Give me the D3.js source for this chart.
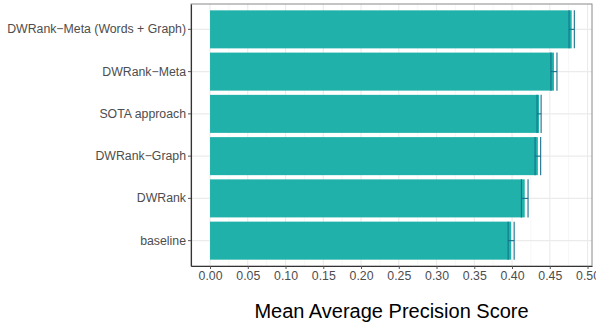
<!DOCTYPE html>
<html>
<head>
<meta charset="utf-8">
<script src="https://cdn.jsdelivr.net/npm/d3@7"></script>
<style>
  html, body { margin: 0; padding: 0; background: #fff; }
  svg { display: block; font-family: "Liberation Sans", Arial, sans-serif; }
</style>
</head>
<body>
<svg id="chart" width="596" height="326"></svg>
<script>
// Methods, top to bottom
const methods = [
  "DWRank\u2212Meta (Words + Graph)",
  "DWRank\u2212Meta",
  "SOTA approach",
  "DWRank\u2212Graph",
  "DWRank",
  "baseline"
];
// Mean average precision per method
const meanAP = [0.479, 0.4555, 0.4358, 0.4342, 0.4168, 0.3988];
// Half-width of the error bar around each mean
const errAP = [0.0035, 0.004, 0.0027, 0.0037, 0.0044, 0.004];
// X axis ticks
const xTicks = [0, 0.05, 0.1, 0.15, 0.2, 0.25, 0.3, 0.35, 0.4, 0.45, 0.5];
const xMinor = d3.range(0.025, 0.5, 0.05);

const svg = d3.select("#chart");
const panel = { left: 191, top: 4, right: 592, bottom: 266 };

const x = d3.scaleLinear()
  .domain([-0.0252, 0.5059])
  .range([panel.left, panel.right]);

const y = d3.scaleBand()
  .domain(methods)
  .range([panel.top, panel.bottom])
  .paddingInner(0.1)
  .paddingOuter(0.15);

const g = svg.append("g");

// Grid lines
g.selectAll("line.minor").data(xMinor).join("line")
  .attr("x1", d => x(d)).attr("x2", d => x(d))
  .attr("y1", panel.top).attr("y2", panel.bottom)
  .attr("stroke", "#f2f2f2").attr("stroke-width", 0.6);
g.selectAll("line.major").data(xTicks).join("line")
  .attr("x1", d => x(d)).attr("x2", d => x(d))
  .attr("y1", panel.top).attr("y2", panel.bottom)
  .attr("stroke", "#ebebeb").attr("stroke-width", 1.1);
g.selectAll("line.hgrid").data(methods).join("line")
  .attr("x1", panel.left).attr("x2", panel.right)
  .attr("y1", d => y(d) + y.bandwidth() / 2).attr("y2", d => y(d) + y.bandwidth() / 2)
  .attr("stroke", "#ebebeb").attr("stroke-width", 1.1);

// Bars
g.selectAll("rect.bar").data(methods).join("rect")
  .attr("x", x(0))
  .attr("y", d => y(d))
  .attr("width", (d, i) => x(meanAP[i]) - x(0))
  .attr("height", y.bandwidth())
  .attr("fill", "#20b2aa");

// Error bars
const eb = g.selectAll("g.err").data(methods).join("g");
eb.append("line")
  .attr("x1", (d, i) => x(meanAP[i] - errAP[i]))
  .attr("x2", (d, i) => x(meanAP[i] + errAP[i]))
  .attr("y1", d => y(d) + y.bandwidth() / 2)
  .attr("y2", d => y(d) + y.bandwidth() / 2);
eb.append("line")
  .attr("x1", (d, i) => x(meanAP[i] - errAP[i]))
  .attr("x2", (d, i) => x(meanAP[i] - errAP[i]))
  .attr("y1", d => y(d)).attr("y2", d => y(d) + y.bandwidth());
eb.append("line")
  .attr("x1", (d, i) => x(meanAP[i] + errAP[i]))
  .attr("x2", (d, i) => x(meanAP[i] + errAP[i]))
  .attr("y1", d => y(d)).attr("y2", d => y(d) + y.bandwidth());
eb.selectAll("line").attr("stroke", "#17708c").attr("stroke-width", 1.1);

// Panel border
g.append("rect")
  .attr("x", panel.left).attr("y", panel.top)
  .attr("width", panel.right - panel.left).attr("height", panel.bottom - panel.top)
  .attr("fill", "none").attr("stroke", "#8a8a8a").attr("stroke-width", 1);

// Axes
const xAxis = d3.axisBottom(x).tickValues(xTicks).tickFormat(d3.format(".2f"))
  .tickSizeInner(3).tickSizeOuter(0).tickPadding(2);
const xg = svg.append("g").attr("transform", `translate(0,${panel.bottom})`).call(xAxis);
xg.select(".domain").attr("stroke", "#333").attr("stroke-width", 1.1);
xg.selectAll(".tick line").attr("stroke", "#555");
xg.selectAll(".tick text").attr("fill", "#4d4d4d").attr("font-size", "12.3px")
  .attr("font-family", "Liberation Sans, Arial, sans-serif");

const yAxis = d3.axisLeft(y).tickSizeInner(3).tickSizeOuter(0).tickPadding(2);
const yg = svg.append("g").attr("transform", `translate(${panel.left},0)`).call(yAxis);
yg.select(".domain").attr("stroke", "#333").attr("stroke-width", 1.1);
yg.selectAll(".tick line").attr("stroke", "#555");
yg.selectAll(".tick text").attr("fill", "#4d4d4d").attr("font-size", "12.3px")
  .attr("font-family", "Liberation Sans, Arial, sans-serif");

// Axis title
svg.append("text")
  .attr("x", (panel.left + panel.right) / 2)
  .attr("y", 318)
  .attr("text-anchor", "middle")
  .attr("font-size", "20px")
  .attr("fill", "#000")
  .text("Mean Average Precision Score");
</script>
</body>
</html>
